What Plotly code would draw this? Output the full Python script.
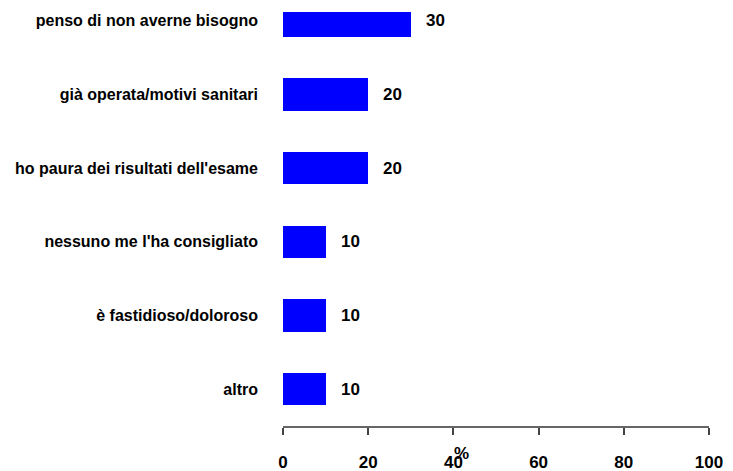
#!/usr/bin/env python

import plotly.graph_objects as go


# Reasons, top to bottom, and their share in percent.
REASONS = [
    'penso di non averne bisogno',
    'già operata/motivi sanitari',
    "ho paura dei risultati dell'esame",
    "nessuno me l'ha consigliato",
    'è fastidioso/doloroso',
    'altro',
]
PERCENT = [30, 20, 20, 10, 10, 10]
X_TICKS = [0, 20, 40, 60, 80, 100]

FONT = 'Liberation Sans, Arial, sans-serif'


def main():
    '''
    Horizontal bar chart of reasons.
    '''
    fig = go.Figure(go.Bar(
        x=PERCENT, y=REASONS, orientation='h',
        marker=dict(color='#0000ff', line=dict(width=0)),
        width=0.44, hoverinfo='skip',
    ))

    # Value labels to the right of each bar.
    for reason, value in zip(REASONS, PERCENT):
        fig.add_annotation(x=value, y=reason, text=str(value),
                           xanchor='left', yanchor='middle', xshift=13,
                           showarrow=False,
                           font=dict(family=FONT, size=17, color='black', weight='bold'))

    # The % label sits just over the 40 tick label.
    fig.add_annotation(x=0.42, y=-0.066, xref='paper', yref='paper',
                       text='%', showarrow=False,
                       xanchor='center', yanchor='middle',
                       font=dict(family=FONT, size=17, color='black', weight='bold'))

    # Size and margins allow for the 8px body margin of the html page.
    fig.update_layout(
        width=725, height=463,
        margin=dict(l=275, r=24, t=4, b=45),
        paper_bgcolor='white', plot_bgcolor='white',
        showlegend=False,
        bargap=0,
        xaxis=dict(
            range=[0, 100], tickvals=X_TICKS, showgrid=False, zeroline=False,
            showline=True, linecolor='#666666', linewidth=2,
            ticks='outside', ticklen=7, tickwidth=2, tickcolor='#444444',
            ticklabelstandoff=13, automargin=False,
            tickfont=dict(family=FONT, size=17, color='black', weight='bold'),
        ),
        yaxis=dict(
            categoryorder='array', categoryarray=REASONS,
            range=[5.5, -0.12], showgrid=False, zeroline=False,
            showline=False, ticks='', ticklabelstandoff=24, automargin=False,
            tickfont=dict(family=FONT, size=16, color='black', weight='bold'),
        ),
    )

    fig.write_html('out.html')


if __name__ == '__main__':
    main()
